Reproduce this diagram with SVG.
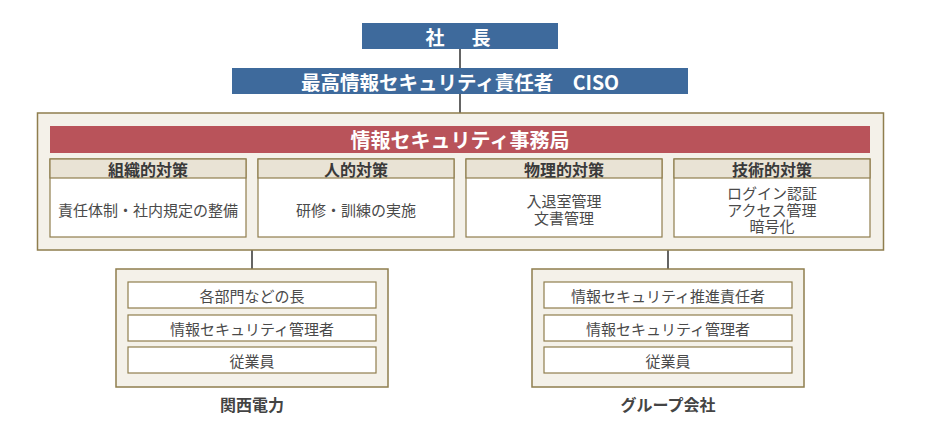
<svg xmlns="http://www.w3.org/2000/svg" width="945" height="424" viewBox="0 0 945 424">
<style>
text{font-family:"Noto Sans CJK JP","Noto Sans",sans-serif;text-anchor:middle;dominant-baseline:central}
.blue{fill:#3e6a9c}
.red{fill:#b9535a}
.wt{fill:#fff;font-weight:bold}
.frame{fill:#f4f1e9;stroke:#8f7e4e;stroke-width:1.5}
.hdr{fill:#e9e3d5;stroke:#8f7e4e;stroke-width:1.2}
.body{fill:#fff;stroke:#8f7e4e;stroke-width:1.2}
.ht{font-size:16px;font-weight:bold;fill:#3a3a3a}
.bt{font-size:15px;fill:#4a4a4a}
.lbl{font-size:16px;font-weight:bold;fill:#444}
.con line{stroke:#111;stroke-width:1.3}
</style>
<rect width="945" height="424" fill="#fff"/>
<g class="con">
<line x1="460" y1="49" x2="460" y2="68"/>
<line x1="460" y1="94" x2="460" y2="113"/>
<line x1="252" y1="250" x2="252" y2="269"/>
<line x1="668" y1="250" x2="668" y2="269"/>
</g>
<g id="president">
<rect class="blue" x="362" y="23" width="196" height="26"/>
<text class="wt" x="460" y="36" font-size="19" letter-spacing="4">社　長</text>
</g>
<g id="ciso">
<rect class="blue" x="232" y="68" width="456" height="26"/>
<text class="wt" x="460" y="81" font-size="19.5">最高情報セキュリティ責任者　CISO</text>
</g>
<g id="office">
<rect class="frame" x="37.5" y="113" width="846" height="137"/>
<rect class="red" x="50" y="126" width="820" height="27"/>
<text class="wt" x="460" y="139.5" font-size="20">情報セキュリティ事務局</text>
</g>
<g id="org">
<rect class="body" x="50" y="159" width="196" height="78"/>
<rect class="hdr" x="50" y="159" width="196" height="19"/>
<text class="ht" x="148" y="168.5">組織的対策</text>
<text class="bt" x="148" y="209">責任体制・社内規定の整備</text>
</g>
<g id="human">
<rect class="body" x="258" y="159" width="196" height="78"/>
<rect class="hdr" x="258" y="159" width="196" height="19"/>
<text class="ht" x="356" y="168.5">人的対策</text>
<text class="bt" x="356" y="209">研修・訓練の実施</text>
</g>
<g id="physical">
<rect class="body" x="466" y="159" width="196" height="78"/>
<rect class="hdr" x="466" y="159" width="196" height="19"/>
<text class="ht" x="564" y="168.5">物理的対策</text>
<text class="bt"><tspan x="564" y="200">入退室管理</tspan><tspan x="564" y="217">文書管理</tspan></text>
</g>
<g id="technical">
<rect class="body" x="674" y="159" width="196" height="78"/>
<rect class="hdr" x="674" y="159" width="196" height="19"/>
<text class="ht" x="772" y="168.5">技術的対策</text>
<text class="bt"><tspan x="772" y="192">ログイン認証</tspan><tspan x="772" y="208.5">アクセス管理</tspan><tspan x="772" y="225">暗号化</tspan></text>
</g>
<g id="kansai">
<rect class="frame" x="116" y="269" width="272" height="118"/>
<rect class="body" x="128" y="282" width="248" height="26"/>
<text class="bt" x="252" y="295">各部門などの長</text>
<rect class="body" x="128" y="315" width="248" height="26"/>
<text class="bt" x="252" y="328">情報セキュリティ管理者</text>
<rect class="body" x="128" y="347" width="248" height="26"/>
<text class="bt" x="252" y="360">従業員</text>
<text class="lbl" x="252" y="404">関西電力</text>
</g>
<g id="group">
<rect class="frame" x="532" y="269" width="272" height="118"/>
<rect class="body" x="544" y="282" width="248" height="26"/>
<text class="bt" x="668" y="295">情報セキュリティ推進責任者</text>
<rect class="body" x="544" y="315" width="248" height="26"/>
<text class="bt" x="668" y="328">情報セキュリティ管理者</text>
<rect class="body" x="544" y="347" width="248" height="26"/>
<text class="bt" x="668" y="360">従業員</text>
<text class="lbl" x="668" y="404">グループ会社</text>
</g>
</svg>
